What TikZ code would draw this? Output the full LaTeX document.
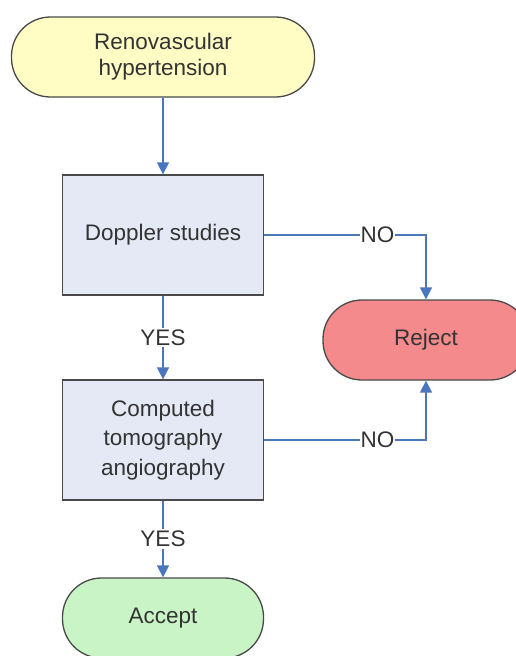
\documentclass[tikz,border=0pt]{standalone}
\usepackage{fontspec}
\setmainfont{Liberation Sans}
\usetikzlibrary{arrows.meta,positioning}
\definecolor{flowblue}{HTML}{4A76BE}
\definecolor{startfill}{HTML}{FFFCC4}
\definecolor{stepfill}{HTML}{E4E9F5}
\definecolor{rejectfill}{HTML}{F48A8C}
\definecolor{acceptfill}{HTML}{C9F5C6}
\definecolor{edgegray}{HTML}{4A4A4A}
\tikzset{
  x=1pt, y=-1pt,
  every node/.style={font=\fontsize{22.5}{26}\selectfont, text=black!80},
  terminal/.style={draw=edgegray, line width=1.3pt, rounded corners=39pt,
    minimum width=303pt, minimum height=80pt, align=center, inner sep=0pt},
  stepbox/.style={draw=edgegray, line width=1.3pt, fill=stepfill,
    minimum width=201pt, minimum height=120pt, align=center, inner sep=0pt},
  flow/.style={draw=flowblue, line width=1.6pt,
    -{Triangle[length=12pt,width=12pt]}},
  answer/.style={fill=white, inner sep=2pt}
}
\begin{document}
\begin{tikzpicture}
\useasboundingbox (0,0) rectangle (515,656);
\fill[white] (0,0) rectangle (515,656);

\node[terminal, fill=startfill] (start) at (163,57) {Renovascular\\hypertension};
\node[stepbox] (doppler) at (163,235) {Doppler studies};
\node[stepbox, font=\fontsize{22.5}{29.5}\selectfont] (cta) at (163,440)
  {Computed\\tomography\\angiography};
\node[terminal, fill=rejectfill, minimum width=206pt] (reject) at (426,340) {Reject};
\node[terminal, fill=acceptfill, minimum width=201pt] (accept) at (163,618) {Accept};

\draw[flow] (start) -- (doppler);
\draw[flow] (doppler) -- node[answer] {YES} (cta);
\draw[flow] (cta) -- node[answer] {YES} (accept);
\draw[flow] (doppler.east) -| node[answer, pos=0.35, inner sep=1pt] {NO} (reject.north);
\draw[flow] (cta.east) -| node[answer, pos=0.35, inner sep=1pt] {NO} (reject.south);
\end{tikzpicture}
\end{document}
